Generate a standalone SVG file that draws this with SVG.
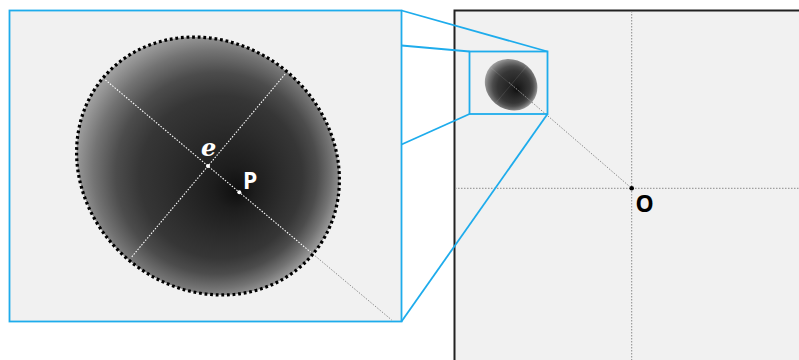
<svg xmlns="http://www.w3.org/2000/svg" xmlns:xlink="http://www.w3.org/1999/xlink" width="799" height="360" viewBox="0 0 799 360">
<style>
.panel{fill:#f1f1f1}
.cyan{fill:none;stroke:#1eacec;stroke-width:1.8}
.axis{stroke:#ffffff;stroke-width:1.1;stroke-dasharray:1.5 1.5}
.grid{stroke:#8c8c8c;stroke-width:1;stroke-dasharray:1.5 1.5}
.lbl{font-family:"Noto Sans","Open Sans","DejaVu Sans",sans-serif;font-weight:700;font-size:23px}
</style>
<defs>
<radialGradient id="grad" gradientUnits="userSpaceOnUse" cx="208" cy="166" r="140" fx="239" fy="192" gradientTransform="rotate(-40 208 166)">
<stop offset="0" stop-color="#0e0e0e"/>
<stop offset="0.15" stop-color="#1d1d1d"/>
<stop offset="0.4" stop-color="#2c2c2c"/>
<stop offset="0.58" stop-color="#363636"/>
<stop offset="0.72" stop-color="#4c4c4c"/>
<stop offset="0.85" stop-color="#737373"/>
<stop offset="0.94" stop-color="#959595"/>
<stop offset="1" stop-color="#aaaaaa"/>
</radialGradient>
<g id="blob">
<ellipse cx="208" cy="166" rx="137" ry="123" transform="rotate(40 208 166)" fill="url(#grad)"/>
<line class="axis" x1="105.4" y1="79.9" x2="310.6" y2="252.1"/>
<line class="axis" x1="285.1" y1="74.1" x2="130.9" y2="257.9"/>
</g>
</defs>

<g id="right-panel">
<rect class="panel" x="454.5" y="10.5" width="360" height="360" stroke="#222" stroke-width="2"/>
<line class="grid" x1="455" y1="188.3" x2="799" y2="188.3"/>
<line class="grid" x1="631.7" y1="11" x2="631.7" y2="360"/>
</g>

<g id="left-panel">
<rect class="panel" x="9.5" y="10.5" width="392" height="311" stroke="#1eacec" stroke-width="1.8"/>
<line class="grid" x1="310.6" y1="252.1" x2="391.7" y2="320" stroke="#b0b0b0"/>
<use xlink:href="#blob"/>
<ellipse cx="208" cy="166" rx="137" ry="123" transform="rotate(40 208 166)" fill="none" stroke="#000" stroke-width="3.2" stroke-dasharray="2.8 2.8"/>
</g>

<g id="node-e">
<circle cx="208" cy="166" r="2" fill="#fff"/>
<text x="201" y="155.5" font-family="'DejaVu Serif','Liberation Serif',serif" font-style="italic" font-weight="700" font-size="24" fill="#fff">e</text>
</g>

<g id="node-P">
<circle cx="239.3" cy="192.3" r="2" fill="#fff"/>
<text class="lbl" x="243" y="188.5" fill="#fff">P</text>
</g>

<g id="small-blob">
<use xlink:href="#blob" transform="translate(469.5 51.5) scale(0.2)"/>
</g>

<g id="connectors">
<line class="grid" x1="509.2" y1="82.6" x2="631.7" y2="188.3" stroke="#8c8c8c"/>
<rect class="cyan" x="469.5" y="51.5" width="78" height="62.5"/>
<line class="cyan" x1="401.5" y1="10.5" x2="547.5" y2="51.5"/>
<line class="cyan" x1="401.5" y1="45.5" x2="469.5" y2="51.5"/>
<line class="cyan" x1="401.5" y1="144.5" x2="469.5" y2="114"/>
<line class="cyan" x1="401.5" y1="321.5" x2="547.5" y2="114"/>
</g>

<g id="node-O">
<circle cx="631.7" cy="188.3" r="2.3" fill="#000"/>
<text class="lbl" x="635.5" y="211.7" fill="#000">O</text>
</g>
</svg>
